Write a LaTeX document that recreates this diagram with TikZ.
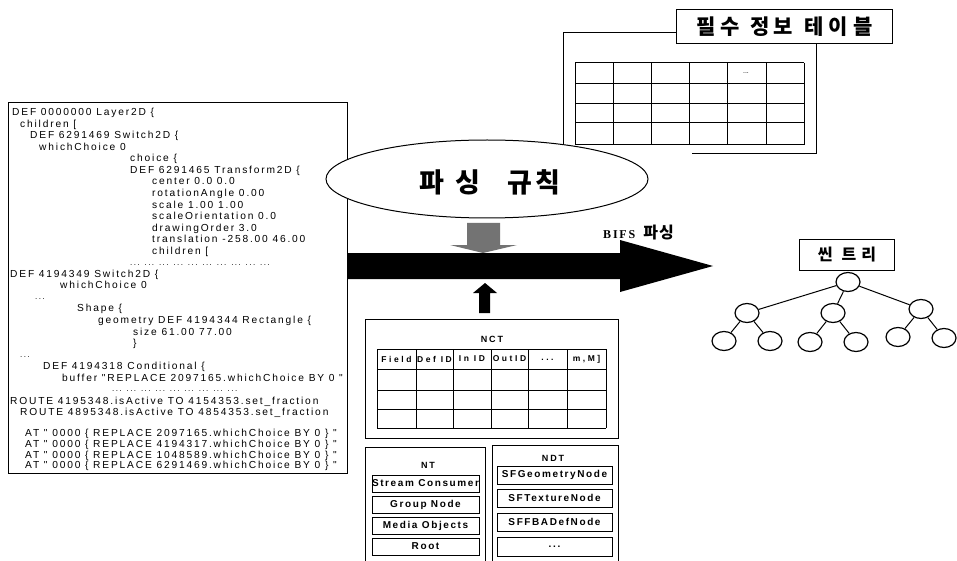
\documentclass[tikz,border=0pt]{standalone}
\usepackage{fontspec}
\setmainfont{Liberation Sans}
\newfontfamily\codefont[LetterSpace=18]{Liberation Sans}
\newfontfamily\lblfont[LetterSpace=20]{Liberation Sans}
\newfontfamily\itemfont[LetterSpace=16]{Liberation Sans}
\newfontfamily\headfont[LetterSpace=30]{Liberation Sans}
\newfontfamily\krfont{Noto Sans CJK KR}
\newfontfamily\bifsfont[LetterSpace=15]{Liberation Serif}
\usetikzlibrary{shapes.geometric}

\begin{document}
\begin{tikzpicture}[x=1pt,y=-1pt,
  codeline/.style={anchor=base west, inner sep=0pt, font=\codefont\fontsize{10.2}{11}\selectfont},
  dotline/.style={anchor=base west, inner sep=0pt, font=\codefont\fontsize{8}{9}\selectfont},
  ln/.style={line width=1pt},
  boxframe/.style={draw, line width=1pt, inner sep=0pt},
  hdr/.style={inner sep=0pt, font=\headfont\bfseries\fontsize{8.5}{10}\selectfont},
  lbl/.style={inner sep=0pt, font=\lblfont\bfseries\fontsize{9}{10}\selectfont},
  ntitem/.style={draw, line width=1pt, inner sep=0pt, font=\itemfont\bfseries\fontsize{10}{11}\selectfont},
  treenode/.style={draw, ellipse, line width=1.2pt, minimum width=24pt, minimum height=19pt, inner sep=0pt},
]
\useasboundingbox (0,0) rectangle (957,561);

% ---------- code box ----------
\node[boxframe, minimum width=339pt, minimum height=371pt, anchor=north west] (code) at (8,102) {};
\node[codeline] (c1) at (12,115.6) {DEF 0000000 Layer2D \{};
\node[codeline] (c2) at (20,127.1) {children [};
\node[codeline] (c3) at (30,138.7) {DEF 6291469 Switch2D \{};
\node[codeline] (c4) at (39,150.2) {whichChoice 0};
\node[codeline] (c5) at (130,161.8) {choice \{};
\node[codeline] (c6) at (130,173.3) {DEF 6291465 Transform2D \{};
\node[codeline] (c7) at (152,184.9) {center 0.0 0.0};
\node[codeline] (c8) at (152,196.4) {rotationAngle 0.00};
\node[codeline] (c9) at (152,208) {scale 1.00 1.00};
\node[codeline] (c10) at (152,219.5) {scaleOrientation 0.0};
\node[codeline] (c11) at (152,231.1) {drawingOrder 3.0};
\node[codeline] (c12) at (152,242.6) {translation -258.00 46.00};
\node[codeline] (c13) at (152,254.2) {children [};
\node[dotline] (c14) at (130,265.5) {... ... ... ... ... ... ... ... ... ...};
\node[codeline] (c15) at (10,277.3) {DEF 4194349 Switch2D \{};
\node[codeline] (c16) at (60,288.8) {whichChoice 0};
\node[dotline] (c17) at (35,299) {...};
\node[codeline] (c18) at (77,311.9) {Shape \{};
\node[codeline] (c19) at (98,323.5) {geometry DEF 4194344 Rectangle \{};
\node[codeline] (c20) at (133,335) {size 61.00 77.00};
\node[codeline] (c21) at (133,346.6) {\}};
\node[dotline] (c22) at (20,357) {...};
\node[codeline] (c23) at (43,369.7) {DEF 4194318 Conditional \{};
\node[codeline] (c24) at (62,381.2) {buffer "REPLACE 2097165.whichChoice BY 0 "};
\node[dotline] (c25) at (112,391) {... ... ... ... ... ... ... ... ...};
\node[codeline] (c26) at (10,404.3) {ROUTE 4195348.isActive TO 4154353.set\_fraction};
\node[codeline] (c27) at (20,415.9) {ROUTE 4895348.isActive TO 4854353.set\_fraction};
\node[codeline] (c28) at (25,436.6) {AT " 0000 \{ REPLACE 2097165.whichChoice BY 0 \} "};
\node[codeline] (c29) at (25,447.4) {AT " 0000 \{ REPLACE 4194317.whichChoice BY 0 \} "};
\node[codeline] (c30) at (25,458.2) {AT " 0000 \{ REPLACE 1048589.whichChoice BY 0 \} "};
\node[codeline] (c31) at (25,468.6) {AT " 0000 \{ REPLACE 6291469.whichChoice BY 0 \} "};

% ---------- info table (top right) ----------
\node[boxframe, minimum width=216pt, minimum height=34pt, anchor=north west,
      font=\krfont\bfseries\fontsize{21}{22}\selectfont] (info) at (676,9)
      {필\hspace{5pt}수\hspace{10pt}정\hspace{4pt}보\hspace{12pt}테\hspace{5pt}이\hspace{5pt}블};
\coordinate (fl1) at (563,150);
\coordinate (fl2) at (563,33);
\coordinate (fr1) at (816,154);
\coordinate (fr2) at (692,154);
\draw[ln] (fl1) -- (fl2) -- (fl2 -| info.west);
\draw[ln] (info.south -| fr1) -- (fr1) -- (fr2);
\foreach \x in {575,613,651,689,727,766,804} \draw[ln] (\x,63) -- (\x,145);
\foreach \y in {63,84,104,123,145} \draw[ln] (575,\y) -- (804,\y);
\node[inner sep=0pt, font=\fontsize{7}{7}\selectfont] (tdots) at (746,73) {...};

% ---------- parsing rule ellipse ----------
\node[draw, ellipse, fill=white, line width=1pt, minimum width=322pt, minimum height=78pt, inner sep=0pt] (rule) at (487,179) {};
\node[inner sep=0pt, font=\krfont\bfseries\fontsize{27}{30}\selectfont] (ruletxt) at (490,182)
  {파\hspace{11pt}싱\hspace{28pt}규\hspace{3pt}칙};

% ---------- arrows ----------
\fill[black!55] (467,223) -- (500,223) -- (500,245) -- (517,245) -- (483,253) -- (450,245) -- (467,245) -- cycle;
\fill[black] (347,253) -- (620,253) -- (620,240) -- (713,266) -- (620,292) -- (620,279) -- (347,279) -- cycle;
\node[inner sep=0pt, anchor=west] (bifs) at (603,233)
  {{\bifsfont\bfseries\fontsize{12}{12}\selectfont BIFS}\hspace{8pt}{\krfont\bfseries\fontsize{16}{16}\selectfont 파\hspace{1pt}싱}};
\fill[black] (485,283) -- (497,293) -- (490,293) -- (490,313) -- (479,313) -- (479,293) -- (473,293) -- cycle;

% ---------- NCT ----------
\node[boxframe, minimum width=253pt, minimum height=119pt, anchor=north west] (nct) at (365,319) {};
\node[lbl] (nctl) at (492,339) {NCT};
\foreach \x in {377,416,453,491,528,567,606} \draw[ln] (\x,349) -- (\x,428);
\foreach \y in {349,369,390,409,428} \draw[ln] (377,\y) -- (606,\y);
\node[hdr] (h1) at (396.5,359) {Field};
\node[hdr] (h2) at (434.5,359) {Def ID};
\node[hdr] (h3) at (472,359) {In ID};
\node[hdr] (h4) at (509.5,359) {OutID};
\node[hdr] (h5) at (547.5,360) {...};
\node[hdr] (h6) at (586.5,359) {m,M]};

% ---------- NT ----------
\node[boxframe, minimum width=120pt, minimum height=125pt, anchor=north west] (nt) at (365,447) {};
\node[lbl] (ntl) at (428,465) {NT};
\node[ntitem, minimum height=17pt] (nt1) at (425.5,483.5) {\makebox[107pt]{Stream Consumer}};
\node[ntitem, minimum height=17pt] (nt2) at (425.5,504.5) {\makebox[107pt]{Group Node}};
\node[ntitem, minimum height=17pt] (nt3) at (425.5,525.5) {\makebox[107pt]{Media Objects}};
\node[ntitem, minimum height=17pt] (nt4) at (425.5,546.5) {\makebox[107pt]{Root}};

% ---------- NDT ----------
\node[boxframe, minimum width=126pt, minimum height=127pt, anchor=north west] (ndt) at (492,445) {};
\node[lbl] (ndtl) at (553,458) {NDT};
\node[ntitem, minimum height=18pt] (nd1) at (554.5,475) {\makebox[115pt]{SFGeometryNode}};
\node[ntitem, minimum height=18pt] (nd2) at (554.5,498) {\makebox[115pt]{SFTextureNode}};
\node[ntitem, minimum height=18pt] (nd3) at (554.5,522) {\makebox[115pt]{SFFBADefNode}};
\node[ntitem, minimum height=19pt] (nd4) at (554.5,546.5) {\makebox[115pt]{...}};

% ---------- scene tree ----------
\node[boxframe, minimum width=95pt, minimum height=31pt, anchor=north west,
      font=\krfont\bfseries\fontsize{16}{16}\selectfont] (scene) at (799,239)
      {씬\hspace{9pt}트\hspace{5pt}리};
\node[treenode] (t0) at (848,282) {};
\node[treenode] (ta) at (747,313) {};
\node[treenode] (tb) at (833,313) {};
\node[treenode] (tc) at (921,309) {};
\node[treenode] (ta1) at (724,341) {};
\node[treenode] (ta2) at (770,341) {};
\node[treenode] (tb1) at (810,342) {};
\node[treenode] (tb2) at (856,342) {};
\node[treenode] (tc1) at (898,337) {};
\node[treenode] (tc2) at (944,338) {};
\draw[ln] (t0) -- (ta);
\draw[ln] (t0) -- (tb);
\draw[ln] (t0) -- (tc);
\draw[ln] (ta) -- (ta1);
\draw[ln] (ta) -- (ta2);
\draw[ln] (tb) -- (tb1);
\draw[ln] (tb) -- (tb2);
\draw[ln] (tc) -- (tc1);
\draw[ln] (tc) -- (tc2);
\end{tikzpicture}
\end{document}
